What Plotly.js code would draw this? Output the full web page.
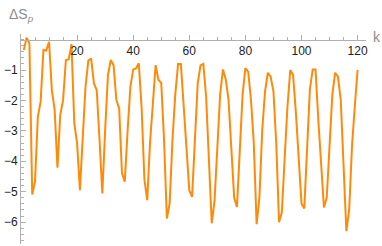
<!DOCTYPE html>
<html>
<head>
<meta charset="utf-8">
<script src="https://cdn.plot.ly/plotly-3.0.1.min.js"></script>
<style>
  html, body { margin: 0; padding: 0; background: #fff; }
  #myPlot { width: 382px; height: 246px; }
</style>
</head>
<body>
<div id="myPlot"></div>
<script>
const kValues = [];
for (let k = 1; k <= 120; k++) kValues.push(k);

const dS = [
  -0.34, 0.06, -0.12, -5.09, -4.67, -2.54, -2.04, -0.34, -0.36, -0.07,
  -1.66, -2.32, -4.21, -2.48, -1.99, -0.67, -0.65, -0.15, -2.75, -3.41,
  -4.95, -3.2, -1.55, -0.69, -0.62, -1.44, -1.66, -3.3, -5.06, -2.97,
  -1.17, -0.67, -0.84, -1.99, -2.26, -4.4, -4.67, -3.0, -1.55, -0.98,
  -0.95, -0.78, -2.25, -4.6, -5.28, -3.4, -2.0, -0.84, -1.33, -1.42,
  -3.3, -5.88, -5.39, -3.3, -1.8, -0.8, -0.8, -2.1, -3.6, -4.95,
  -5.17, -3.1, -1.44, -0.85, -0.8, -1.88, -4.07, -6.04, -5.3, -3.3,
  -1.8, -0.98, -1.3, -1.99, -3.74, -5.2, -5.5, -3.4, -1.8, -0.94,
  -1.06, -1.99, -3.41, -6.07, -5.2, -2.97, -1.71, -1.09, -1.22, -1.7,
  -3.41, -6.0, -5.68, -3.9, -2.2, -1.0, -1.16, -2.4, -4.07, -5.39,
  -5.55, -3.3, -1.63, -0.98, -0.98, -2.65, -4.07, -5.52, -5.2, -3.5,
  -1.8, -1.09, -1.22, -1.99, -4.07, -6.3, -5.6, -3.52, -2.2, -1.0
];

const xTicks = [20, 40, 60, 80, 100, 120];
const yTicks = [-1, -2, -3, -4, -5, -6];

const yMin = -6.72, yMax = 0.184;

const data = [{
  x: kValues,
  y: dS,
  mode: "lines",
  line: {color: "#ff8a0a", width: 2},
  hoverinfo: "none"
}];

const axisGray = "#b0b0b0";
const labelFont = {family: "Liberation Sans, Arial, sans-serif", size: 12, color: "#222"};

const layout = {
  width: 382,
  height: 246,
  margin: {l: 21, r: 16, t: 34, b: 2},
  paper_bgcolor: "#fff",
  plot_bgcolor: "#fff",
  showlegend: false,
  xaxis: {
    range: [0, 123],
    anchor: "free",
    position: (0 - yMin) / (yMax - yMin),
    side: "bottom",
    showgrid: false,
    zeroline: false,
    showline: true,
    linecolor: axisGray,
    linewidth: 1,
    tickmode: "array",
    tickvals: xTicks,
    ticks: "inside",
    ticklen: 5,
    tickcolor: axisGray,
    minor: {dtick: 5, tick0: 0, ticks: "inside", ticklen: 3, tickcolor: axisGray, showgrid: false},
    tickfont: labelFont
  },
  yaxis: {
    range: [yMin, yMax],
    showgrid: false,
    zeroline: false,
    showline: true,
    linecolor: axisGray,
    linewidth: 1,
    tickmode: "array",
    tickvals: yTicks,
    ticktext: yTicks.map(v => "\u2212" + Math.abs(v)),
    ticks: "inside",
    ticklen: 5,
    tickcolor: axisGray,
    minor: {dtick: 0.2, tick0: 0, ticks: "inside", ticklen: 3, tickcolor: axisGray, showgrid: false},
    tickfont: labelFont
  },
  annotations: [
    {
      text: "\u0394S<sub><i>p</i></sub>",
      xref: "paper", yref: "paper",
      x: -14 / 345, y: 1 + 30 / 210,
      xanchor: "left", yanchor: "top",
      showarrow: false,
      font: {family: "Liberation Sans, Arial, sans-serif", size: 14, color: "#8c8c8c"}
    },
    {
      text: "k",
      xref: "paper", yref: "y",
      x: (376.5 - 21) / 345, y: 0.08,
      xanchor: "center", yanchor: "middle",
      showarrow: false,
      font: {family: "Liberation Sans, Arial, sans-serif", size: 14, color: "#8c8c8c"}
    }
  ]
};

Plotly.newPlot("myPlot", data, layout, {staticPlot: true, displayModeBar: false});
</script>
</body>
</html>
